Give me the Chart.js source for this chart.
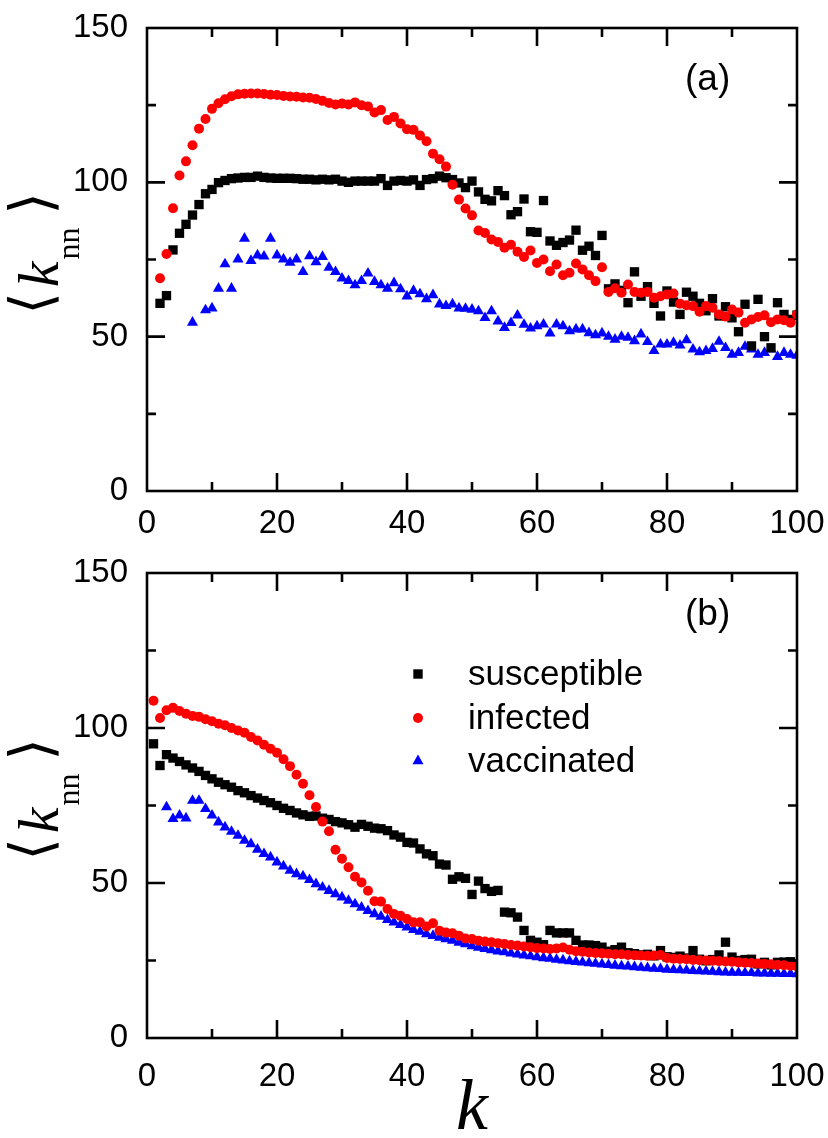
<!DOCTYPE html>
<html lang="en">
<head>
  <meta charset="UTF-8">
  <title>knn vs k</title>
  <script src="https://cdn.jsdelivr.net/npm/chart.js"></script>
  <style>
    body { margin: 0; background: #fff; }
    #wrap { position: relative; width: 828px; height: 1138px; }
    canvas { position: absolute; left: 0; }
    #chartA { top: 0; }
    #chartB { top: 545px; }
  </style>
</head>
<body>
  <div id="wrap">
    <canvas id="chartA" width="828" height="545"></canvas>
    <canvas id="chartB" width="828" height="593"></canvas>
  </div>
  <script>
    // degree k (x values)
    const kValues = [1,2,3,4,5,6,7,8,9,10,11,12,13,14,15,16,17,18,19,20,
      21,22,23,24,25,26,27,28,29,30,31,32,33,34,35,36,37,38,39,40,
      41,42,43,44,45,46,47,48,49,50,51,52,53,54,55,56,57,58,59,60,
      61,62,63,64,65,66,67,68,69,70,71,72,73,74,75,76,77,78,79,80,
      81,82,83,84,85,86,87,88,89,90,91,92,93,94,95,96,97,98,99,100];

    // panel (a)
    const aSusceptible = [null,60.8,63.3,78.1,83.5,86.4,89.4,92.8,96.3,97.7,
      99.9,100.6,101.2,101.4,101.6,101.6,102,101.6,101.4,101.3,
      101.3,101.3,101.2,101,101,100.8,101,100.8,101,100.4,
      100,100.4,100.4,100.4,100.4,101.2,99,100.4,100.6,100.4,
      100.8,99,100.9,101.2,102,101.5,100.9,99.8,98.3,100.4,
      96.9,94.5,94,97.3,95.7,89.5,90.5,94.6,84,83.8,
      94.1,81,79.6,80.5,81.3,84.5,78,79.3,76.3,82.8,
      65.5,67.1,65,61,71,63.1,66.2,60.8,56.7,64.8,
      61.2,57.2,64.4,63.1,60.8,58.4,62.3,56.7,59.7,56.1,
      51.6,60.5,47,62.1,50,46.4,61,57.2,55.6,57];
    const aInfected = [null,68.9,76.8,91.6,102.2,106.8,112,117.4,120.5,123.8,
      125.6,126.9,127.9,128.5,128.7,128.8,128.8,128.6,128.4,128.3,
      128,127.8,127.7,127.5,127.4,127,126.4,125.7,125.2,125.5,
      125.2,125.9,125,124.6,122.6,123.4,120.2,121.2,119.1,117.2,
      117,115.2,113.3,109.3,107.5,105.1,99.2,94.4,91.5,89.3,
      84.4,83.6,81.5,80.7,78.8,79.8,77.5,75.8,77.9,73.9,
      75,71.2,73.4,69.9,70.7,73.7,71.8,69.9,68,72.5,
      64.5,65.7,64.2,66.9,64.5,64.2,64.5,62.6,63.1,63.7,
      64,60.7,60.2,59.9,58.1,59.9,59.4,57.2,56.5,58.8,
      57.8,54.5,55.6,56.4,56.9,54.7,55.6,55.3,54.5,57.2];
    const aVaccinated = [null,null,null,null,null,null,54.6,null,58.6,59.2,
      65.6,73.5,65.6,75.1,81.8,74.6,76.4,76,81.8,76.4,
      75.1,74,75.1,71,76.1,74.2,75.9,72.4,71,68.9,
      68.1,66.7,68.1,70.5,67.8,66.7,65.6,67.4,65.4,63.1,
      64.9,63.8,62.2,63.5,60.5,60,60.5,59.2,59.1,58.8,
      58.3,56.1,58.3,55,52.9,54.5,56.9,53.9,52.7,53.4,
      54,51.1,54,53.4,51.8,52.4,52.4,51.2,50.5,51.1,
      50,49.1,50,49.7,48.6,50.8,48.3,45.4,47.5,47.5,
      48.1,47.2,48.9,45.9,45,45.4,46.1,48.4,46.4,44.2,
      44.8,46.8,45.9,44.2,44.8,45.9,43.5,44.8,44.2,43.9];

    // panel (b)
    const bSusceptible = [94.9,87.9,91.4,90.3,89.2,88.1,87.1,86,84.7,83.6,
      82.5,81.7,80.9,79.8,79.1,78.2,77.4,76.6,75.9,75,
      74.1,73.4,72.6,72,71.5,71.6,70.9,70.5,69.8,69.4,
      68.8,68,68.9,68.3,67.7,67.5,66.9,65.5,64.8,63.1,
      62.9,61,59.4,58.8,56.1,55.8,51.2,52,51.5,46.3,
      50.6,48.2,47.3,47.6,40.6,40.4,39,34.7,31.5,30.9,
      30.1,34.7,33.9,33.9,33.9,31.5,30,30,29.8,29.3,
      28,28.5,29.3,27.5,27.2,26.8,27,26.5,28.2,26.2,
      26,26.4,25.8,28.2,25.4,24.9,25.3,26.8,30.9,26.1,
      25,25.3,25.4,23.9,24.4,23.6,24.4,24.5,24.6,23.8];
    const bInfected = [108.8,103.2,105.7,106.5,105.5,104.6,103.9,103.6,102.8,102.2,
      101.4,100.9,100,99.2,98.5,97.1,96,94.6,93.3,92,
      89.9,87.7,84.9,82,78.3,74.5,69.8,66.7,60.7,57.8,
      55.1,52,50.2,47.5,44.1,44,41.6,40,39.4,38.4,
      37.3,37.3,36,37,34.6,34,33.8,33,32.1,31.9,
      31.4,31.1,30.9,30.6,30.3,30,29.8,29.5,29.3,29,
      28.9,28.7,28.9,29.2,28.5,28,27.8,27.6,27.4,27.3,
      27.2,27,27,26.8,26.7,26.6,26.5,26.6,26.8,25.8,
      25.6,25.5,25.4,25.2,25.1,25,24.9,24.8,24.7,24.6,
      24.4,24.3,24.2,24,23.9,23.8,23.6,23.5,23.3,23.1];
    const bVaccinated = [null,null,74.5,70.7,71.8,70.9,76.6,76.6,73.9,71.8,
      69.6,68,66.6,65.3,63.7,62.6,60.8,59.4,58.3,56.7,
      55.4,54,52.9,52.2,51,49.7,48.6,47.5,46.4,45.4,
      44.3,43.2,42.1,41,40,39.2,38.1,37.3,36.5,35.7,
      34.9,34.3,33.5,33,32.4,31.9,31.4,30.8,30.3,29.7,
      29.2,28.8,28.4,28,27.7,27.3,27,26.7,26.4,26.1,
      25.8,25.6,25.3,25.1,24.8,24.6,24.4,24.2,24,23.8,
      23.6,23.4,23.2,23.1,22.9,22.7,22.6,22.4,22.3,22.1,
      22,21.9,21.8,21.7,21.6,21.5,21.4,21.3,21.2,21.1,
      21.1,21,21,20.9,20.9,20.8,20.8,20.7,20.7,20.6];

    const seriesNames = ['susceptible', 'infected', 'vaccinated'];
    const yTicks = [0, 50, 100, 150];
    const xTicks = [0, 20, 40, 60, 80, 100];

    const sansFont = 'Liberation Sans, Arial, sans-serif';
    const serifFont = 'Liberation Serif, Times New Roman, serif';

    function toPoints(values) {
      return kValues.map((k, i) => ({ x: k, y: values[i] })).filter(p => p.y !== null);
    }

    function makeDatasets(sus, inf, vac) {
      return [
        { label: seriesNames[0], data: toPoints(sus), pointStyle: 'rect', pointRadius: 6.6,
          backgroundColor: '#000', borderColor: '#000', borderWidth: 0, order: 1 },
        { label: seriesNames[1], data: toPoints(inf), pointStyle: 'circle', pointRadius: 5,
          backgroundColor: '#ff0000', borderColor: '#ff0000', borderWidth: 0, order: 0 },
        { label: seriesNames[2], data: toPoints(vac), pointStyle: 'triangle', pointRadius: 6.4,
          backgroundColor: '#0000ff', borderColor: '#0000ff', borderWidth: 0, order: 2 }
      ];
    }

    // remove the extra room Chart.js keeps for overhanging tick labels
    function noPad(s) {
      s.paddingTop = 0; s.paddingBottom = 0; s.paddingLeft = 0; s.paddingRight = 0;
    }

    // frame with inward ticks on all four sides, plus panel tag and y label
    const framePlugin = {
      id: 'framePlugin',
      afterDatasetsDraw(chart, args, opts) {
        const { ctx, chartArea: a, scales: { x, y } } = chart;
        ctx.save();
        ctx.strokeStyle = '#000';
        ctx.lineWidth = 2.6;
        ctx.strokeRect(a.left, a.top, a.right - a.left, a.bottom - a.top);
        ctx.beginPath();
        for (let v = 10; v < 100; v += 10) {
          const px = x.getPixelForValue(v);
          const len = v % 20 === 0 ? 18 : 9;
          ctx.moveTo(px, a.bottom); ctx.lineTo(px, a.bottom - len);
          ctx.moveTo(px, a.top); ctx.lineTo(px, a.top + len);
        }
        for (let v = 25; v < 150; v += 25) {
          const py = y.getPixelForValue(v);
          const len = v % 50 === 0 ? 18 : 9;
          ctx.moveTo(a.left, py); ctx.lineTo(a.left + len, py);
          ctx.moveTo(a.right, py); ctx.lineTo(a.right - len, py);
        }
        ctx.stroke();

        // panel tag
        ctx.fillStyle = '#000';
        ctx.font = '37px ' + sansFont;
        ctx.textAlign = 'left';
        ctx.textBaseline = 'middle';
        ctx.fillText(opts.tag, opts.tagX, opts.tagY);

        // y axis label <k_nn>
        const cy = (a.top + a.bottom) / 2 - 6;
        ctx.translate(58, cy);
        ctx.rotate(-Math.PI / 2);
        ctx.textAlign = 'center';
        ctx.textBaseline = 'middle';
        ctx.font = '58px DejaVu Sans';
        ctx.fillText('\u27E8', -50, -22);
        ctx.fillText('\u27E9', 50, -22);
        ctx.textBaseline = 'alphabetic';
        ctx.font = 'italic 58px ' + serifFont;
        ctx.fillText('k', -21, 0);
        ctx.font = '32px ' + serifFont;
        ctx.fillText('nn', 10, 21);
        ctx.restore();
      }
    };

    // legend drawn inside panel (b)
    const legendPlugin = {
      id: 'legendPlugin',
      afterDatasetsDraw(chart) {
        const { ctx } = chart;
        const rows = [129, 173, 216];
        ctx.save();
        chart.data.datasets.forEach((ds, i) => {
          const ly = rows[i];
          ctx.fillStyle = ds.backgroundColor;
          ctx.beginPath();
          if (ds.pointStyle === 'rect') {
            ctx.rect(418 - 4.7, ly - 4.7, 9.4, 9.4);
          } else if (ds.pointStyle === 'circle') {
            ctx.arc(418, ly, 5, 0, Math.PI * 2);
          } else {
            ctx.moveTo(418, ly - 6.4);
            ctx.lineTo(423.5, ly + 3.2);
            ctx.lineTo(412.5, ly + 3.2);
            ctx.closePath();
          }
          ctx.fill();
          ctx.fillStyle = '#000';
          ctx.font = '35px ' + sansFont;
          ctx.textAlign = 'left';
          ctx.textBaseline = 'middle';
          ctx.fillText(ds.label, 468, ly + 1);
        });
        ctx.restore();
      }
    };

    function makeOptions(tag, tagY, xPad, xHeight, showTitle) {
      return {
        responsive: false,
        animation: false,
        devicePixelRatio: 1,
        layout: { padding: { left: 0, right: 31, top: 28, bottom: 0 } },
        plugins: {
          legend: { display: false },
          tooltip: { enabled: false },
          framePlugin: { tag: tag, tagX: 685, tagY: tagY }
        },
        scales: {
          x: {
            type: 'linear', min: 0, max: 100,
            grid: { display: false, drawTicks: false },
            border: { display: false },
            afterFit: s => { s.height = xHeight; noPad(s); },
            afterBuildTicks: s => { s.ticks = xTicks.map(v => ({ value: v })); },
            ticks: { color: '#000', font: { family: sansFont, size: 33 }, padding: xPad, maxRotation: 0, autoSkip: false },
            title: {
              display: showTitle, text: 'k', color: '#000', padding: 0,
              font: { family: serifFont, style: 'italic', size: 72, lineHeight: 0.78 }
            }
          },
          y: {
            min: 0, max: 150,
            grid: { display: false, drawTicks: false },
            border: { display: false },
            afterFit: s => { s.width = 147; noPad(s); },
            afterBuildTicks: s => { s.ticks = yTicks.map(v => ({ value: v })); },
            ticks: { color: '#000', font: { family: sansFont, size: 33 }, padding: 19 }
          }
        }
      };
    }

    new Chart(document.getElementById('chartA'), {
      type: 'scatter',
      data: { datasets: makeDatasets(aSusceptible, aInfected, aVaccinated) },
      options: makeOptions('(a)', 80, 13, 54, false),
      plugins: [framePlugin]
    });

    new Chart(document.getElementById('chartB'), {
      type: 'scatter',
      data: { datasets: makeDatasets(bSusceptible, bInfected, bVaccinated) },
      options: makeOptions('(b)', 70, 19, 100, true),
      plugins: [framePlugin, legendPlugin]
    });
  </script>
</body>
</html>
